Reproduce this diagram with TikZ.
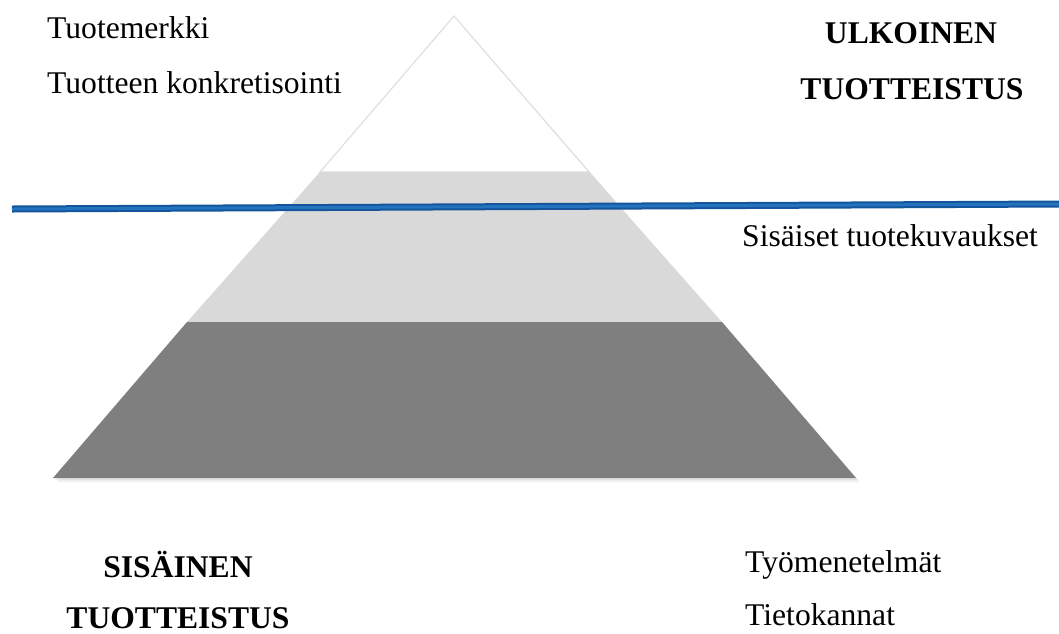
\documentclass[tikz,border=0pt]{standalone}
\usepackage{fontspec}
\setmainfont{Liberation Serif}
\usetikzlibrary{calc}
\definecolor{lightband}{RGB}{217,217,217}
\definecolor{darkband}{RGB}{127,127,127}
\definecolor{blueedge}{RGB}{20,85,155}
\definecolor{bluecore}{RGB}{35,115,190}
\tikzset{
  lbl/.style={inner sep=0pt, font=\fontsize{31.6pt}{38pt}\selectfont},
  lblleft/.style={lbl, anchor=base west},
  lblbold/.style={lbl, anchor=base, font=\fontsize{31.6pt}{38pt}\selectfont\bfseries},
  shade1/.style={fill=black, fill opacity=0.06, draw=none},
}
\begin{document}
\begin{tikzpicture}[x=1pt,y=-1pt]
\useasboundingbox (0,0) rectangle (1059,633);
% corner coordinates of the pyramid
\coordinate (apex) at (454,16);
\coordinate (t1l) at (320,172);
\coordinate (t1r) at (589,172);
\coordinate (t2l) at (187,322);
\coordinate (t2r) at (722,322);
\coordinate (bl) at (53,478);
\coordinate (br) at (856,478);
% soft shadow
\fill[shade1] ($(apex)+(2,2)$) -- ($(br)+(4,4)$) -- ($(bl)+(4,4)$) -- cycle;
\fill[shade1] ($(apex)+(1,1)$) -- ($(br)+(2,2)$) -- ($(bl)+(2,2)$) -- cycle;
% bands
\fill[white, draw=black!12, line width=1.2pt, line join=miter] (apex) -- (t1r) -- (t1l) -- cycle;
\fill[lightband] (t1l) -- (t1r) -- (t2r) -- (t2l) -- cycle;
\fill[darkband] (t2l) -- (t2r) -- (br) -- (bl) -- cycle;
% blue line
\coordinate (lineL) at (12,209);
\coordinate (lineR) at (1059,204);
\draw[blueedge, line width=7pt] (lineL) -- (lineR);
\draw[bluecore, line width=3pt] (lineL) -- (lineR);
% texts
\node[lblleft] (brand) at (47,38) {Tuotemerkki};
\node[lblleft] (concr) at (47,93) {Tuotteen konkretisointi};
\node[lblbold] (ulk1) at (911,43) {ULKOINEN};
\node[lblbold] (ulk2) at (912,99) {TUOTTEISTUS};
\node[lblleft] (sis) at (742,246) {Sisäiset tuotekuvaukset};
\node[lblbold] (sisn1) at (178,577) {SISÄINEN};
\node[lblbold] (sisn2) at (178,628) {TUOTTEISTUS};
\node[lblleft] (tyo) at (745,572) {Työmenetelmät};
\node[lblleft] (tieto) at (745,625) {Tietokannat};
\end{tikzpicture}
\end{document}
